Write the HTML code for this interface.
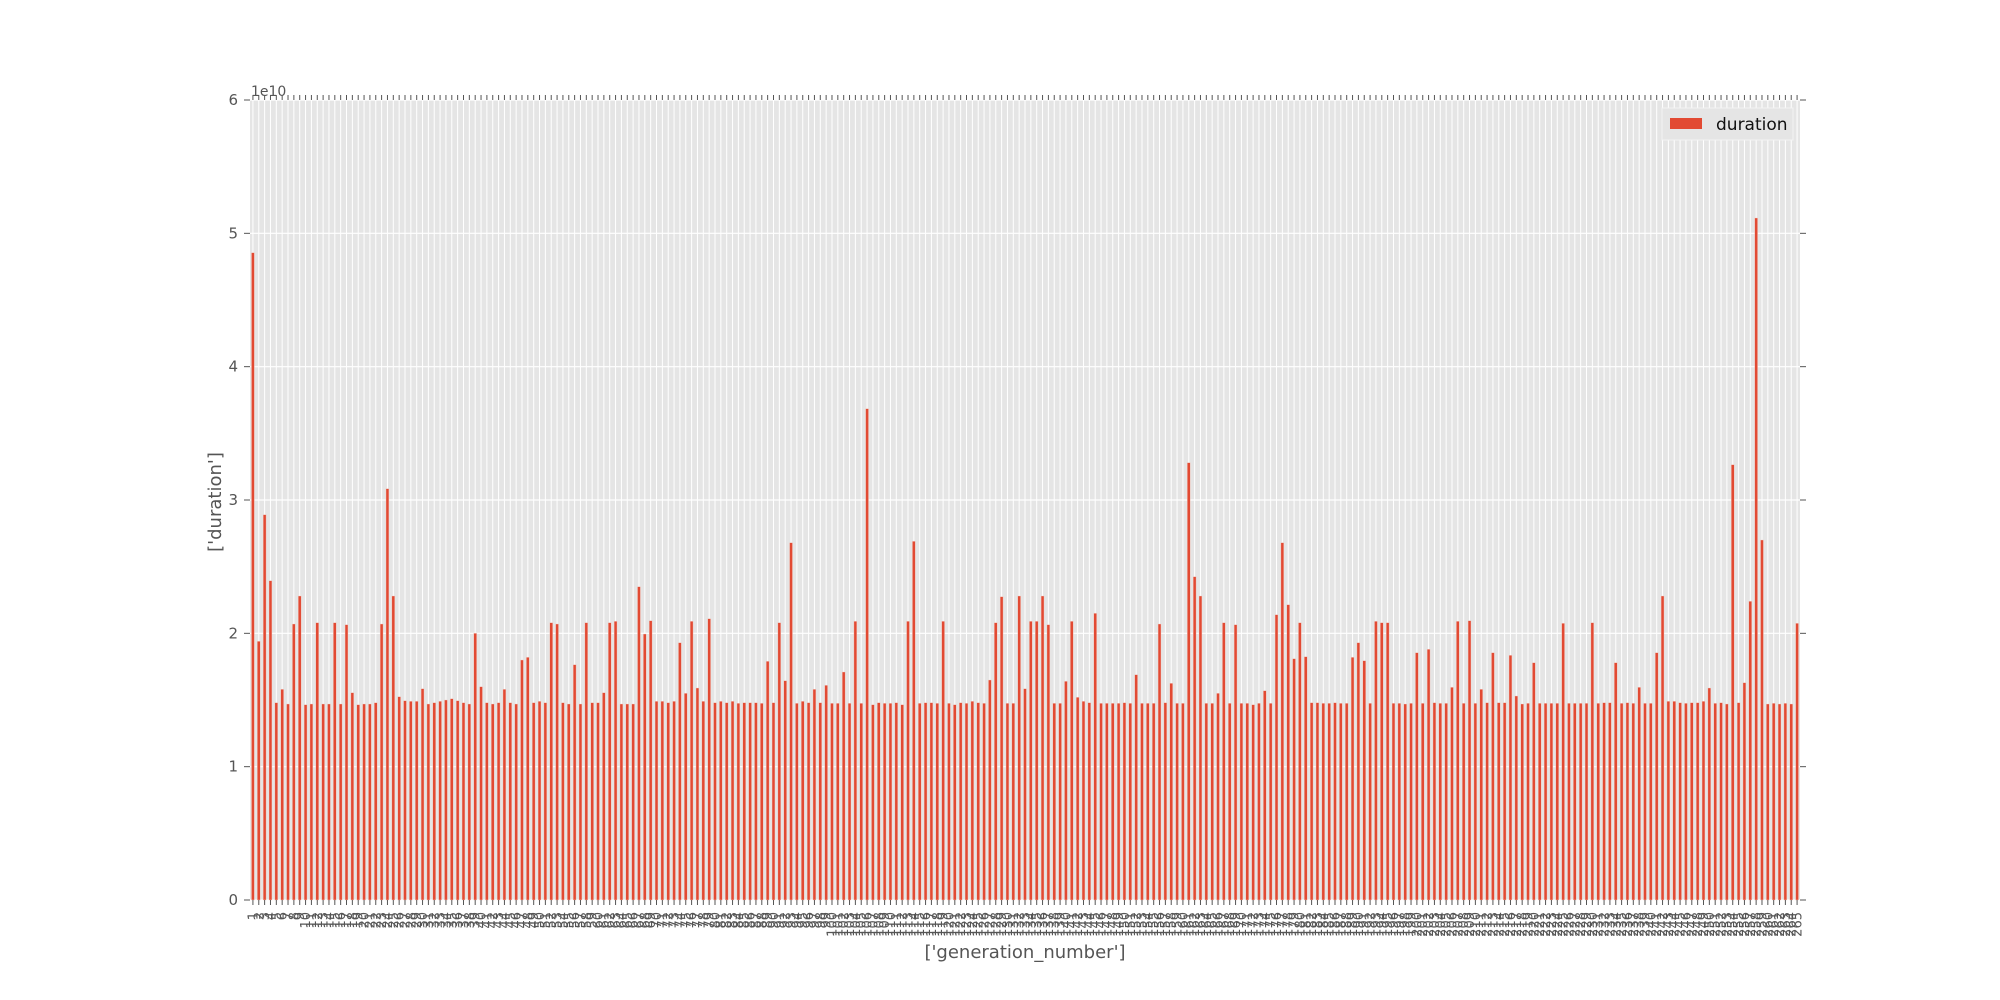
<!DOCTYPE html>
<html><head><meta charset="utf-8"><style>
html,body{margin:0;padding:0;background:#fff;}
svg{display:block;font-family:"DejaVu Sans","Liberation Sans",sans-serif;}
</style></head><body>
<svg id="chart" width="2000" height="1000" viewBox="0 0 2000 1000" xmlns="http://www.w3.org/2000/svg">
<rect x="250" y="100" width="1550" height="800" fill="#e5e5e5"/>
<g id="grid"></g>
<g id="bars"></g>
<g id="ticks"></g>
<text x="251" y="96" font-size="14" fill="#555">1e10</text>
<text x="0" y="0" font-size="18" fill="#555" text-anchor="middle" transform="translate(221,502) rotate(-90)">['duration']</text>
<text x="1025" y="958" font-size="18" fill="#555" text-anchor="middle">['generation_number']</text>
<g>
<rect x="1662" y="108" width="131" height="32" fill="#e5e5e5" stroke="#f4f4f4" stroke-width="1"/>
<rect x="1670" y="118" width="32" height="11" fill="#E24A33"/>
<text x="1716" y="130" font-size="17" fill="#111">duration</text>
</g>
</svg>
<script>
const categories = Array.from({length:265},(_,i)=>String(i+1));
const durations = [
4.855,1.94,2.89,2.395,1.48,1.58,1.47,2.07,2.28,1.465,1.47,2.08,1.47,1.47,2.08,1.47,2.065,1.555,1.465,1.47,
1.47,1.48,2.07,3.085,2.28,1.525,1.495,1.49,1.49,1.585,1.47,1.48,1.49,1.5,1.51,1.495,1.48,1.47,2.0,1.6,
1.48,1.47,1.48,1.58,1.48,1.47,1.80,1.82,1.48,1.49,1.48,2.08,2.07,1.48,1.47,1.765,1.47,2.08,1.48,1.48,
1.555,2.08,2.09,1.47,1.47,1.47,2.35,1.995,2.095,1.49,1.49,1.48,1.49,1.93,1.55,2.09,1.59,1.49,2.11,1.48,
1.49,1.48,1.49,1.475,1.48,1.48,1.48,1.475,1.79,1.48,2.08,1.645,2.68,1.475,1.49,1.48,1.58,1.48,1.61,1.475,
1.475,1.71,1.475,2.09,1.475,3.685,1.465,1.48,1.475,1.475,1.48,1.465,2.09,2.69,1.475,1.48,1.48,1.475,2.09,1.475,
1.465,1.48,1.475,1.49,1.48,1.475,1.65,2.08,2.275,1.475,1.475,2.28,1.585,2.09,2.09,2.28,2.065,1.475,1.475,1.64,
2.09,1.52,1.49,1.48,2.15,1.475,1.475,1.475,1.475,1.48,1.475,1.69,1.475,1.475,1.475,2.07,1.48,1.625,1.475,1.475,
3.28,2.425,2.28,1.475,1.475,1.55,2.08,1.475,2.065,1.475,1.475,1.465,1.475,1.57,1.475,2.14,2.68,2.215,1.81,2.08,
1.825,1.48,1.48,1.475,1.475,1.48,1.475,1.475,1.82,1.93,1.795,1.475,2.09,2.08,2.08,1.475,1.475,1.47,1.475,1.855,
1.475,1.88,1.48,1.475,1.475,1.595,2.09,1.475,2.095,1.475,1.58,1.48,1.855,1.48,1.48,1.835,1.53,1.47,1.475,1.78,
1.475,1.475,1.475,1.475,2.075,1.475,1.475,1.475,1.475,2.08,1.475,1.48,1.48,1.78,1.475,1.48,1.475,1.595,1.475,1.475,
1.855,2.28,1.49,1.49,1.48,1.475,1.48,1.48,1.49,1.59,1.475,1.48,1.47,3.265,1.48,1.63,2.24,5.115,2.70,1.47,
1.475,1.47,1.475,1.47,2.075
];
const yTicks = [0,1,2,3,4,5,6];
const yTickLabels = ["0","1","2","3","4","5","6"];

const NS="http://www.w3.org/2000/svg";
const L=250,R=1800,T=100,B=900,YMAX=6;
const n=categories.length, step=(R-L)/n;
const xc=i=>L+(i+0.5)*step;
const y=v=>B-(v/YMAX)*(B-T);
function mk(tag,attrs,parent){const e=document.createElementNS(NS,tag);for(const k in attrs)e.setAttribute(k,attrs[k]);parent.appendChild(e);return e;}
const grid=document.getElementById('grid'),bars=document.getElementById('bars'),ticks=document.getElementById('ticks');

yTicks.forEach((t,k)=>{
  const gl=mk('line',{x1:L,x2:R,y1:y(t),y2:y(t),stroke:'#fff','stroke-width':1.2},grid);
  
  
  const tl=mk('line',{x1:L-6,x2:L,y1:y(t),y2:y(t),stroke:'#555','stroke-width':1},ticks);
  
  
  const tr=mk('line',{x1:R,x2:R+6,y1:y(t),y2:y(t),stroke:'#555','stroke-width':1},ticks);
  
  
  const lb=mk('text',{x:L-12,y:y(t)+5,'font-size':15,fill:'#555','text-anchor':'end'},ticks);
  lb.textContent=yTickLabels[k];
  
  
});

categories.forEach((c,i)=>{
  const x=xc(i);
  const gl=mk('line',{x1:x,x2:x,y1:T,y2:B,stroke:'#fff','stroke-width':1},grid);
  
  
  const w=step*0.5;
  const b=mk('rect',{x:x-w/2,y:y(durations[i]),width:w,height:B-y(durations[i]),fill:'#E24A33',stroke:'#f2d0c8','stroke-width':0.4},bars);
  
  
  const t1=mk('line',{x1:x,x2:x,y1:B,y2:B+5,stroke:'#555','stroke-width':1},ticks);
  
  
  const t2=mk('line',{x1:x,x2:x,y1:T-5,y2:T,stroke:'#555','stroke-width':1},ticks);
  
  
  const lb=mk('text',{x:0,y:0,'font-size':13,fill:'#555','text-anchor':'end',transform:'translate('+(x+4.5)+','+(B+12)+') rotate(-90)'},ticks);
  lb.textContent=c;
  
  
});
</script>
</body></html>
